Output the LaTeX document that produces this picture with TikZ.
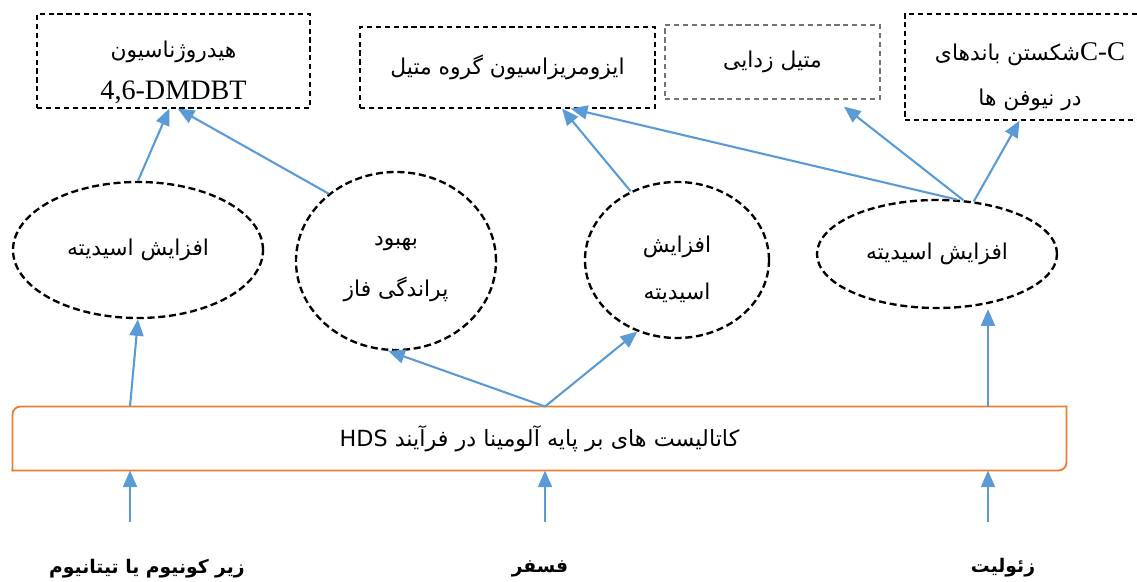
\documentclass[tikz,border=0pt]{standalone}
\usepackage{fontspec}
\setmainfont{Liberation Serif}
\newfontfamily\fafont[Script=Arabic]{DejaVu Sans}
\TeXXeTstate=1
\usetikzlibrary{arrows.meta, shapes.geometric}
\definecolor{flowblue}{HTML}{5B9BD5}
\definecolor{catorange}{HTML}{ED7D31}
\newcommand{\fa}[1]{{\fafont\beginR #1\endR}}
\newcommand{\lift}[1]{\rule{0pt}{#1}}

\begin{document}
\begin{tikzpicture}[x=0.015cm, y=-0.015cm,
    result/.style={draw, dash pattern=on 2.2pt off 1.6pt, line width=0.5pt, align=center, inner sep=0pt, font=\fontsize{9.3}{13}\selectfont},
    effect/.style={ellipse, draw, dash pattern=on 3pt off 1.6pt, line width=1pt, align=center, inner sep=0pt, font=\fontsize{9.3}{13}\selectfont},
    flow/.style={draw=flowblue, line width=0.9pt, -{Triangle[length=2.5mm, width=2.1mm]}},
    edge line/.style={catorange, line width=0.8pt, line cap=rect, rounded corners=0.12cm},
    source/.style={font=\fontsize{8}{10}\selectfont\bfseries}]
  \useasboundingbox (0,0) rectangle (1137,582);

  % Nati
  \node[result, minimum width=4.095cm, minimum height=1.41cm] (hyd) at (173.5,61)
    {\lift{17pt}\fa{هیدروژناسیون}\\[5pt]{\fontsize{12}{14}\selectfont 4,6-DMDBT}};
  \node[result, minimum width=4.425cm, minimum height=1.215cm] (iso) at (507.5,67.5)
    {\fa{ایزومریزاسیون گروه متیل}};
  \node[result, draw=black!55, minimum width=3.225cm, minimum height=1.11cm] (demeth) at (772.5,62)
    {\fa{متیل زدایی}};
  \node[result, minimum width=3.75cm, minimum height=1.59cm] (crack) at (1030,67)
    {\lift{16pt}{\fafont\beginR\beginL{\rmfamily\fontsize{11.5}{13}\selectfont C-C}\endL شکستن باندهای\endR}\\[6pt]\fa{در نیوفن ها}};

  % Asar
  \node[effect, minimum width=3.75cm, minimum height=2.04cm] (acid1) at (138,250)
    {\fa{افزایش اسیدیته}};
  \node[effect, minimum width=3.0cm, minimum height=2.67cm] (disp) at (396,261)
    {\lift{11pt}\fa{بهبود}\\[9pt]\fa{پراندگی فاز}};
  \node[effect, minimum width=2.76cm, minimum height=2.34cm] (acid2) at (677,260)
    {\lift{15pt}\fa{افزایش}\\[7pt]\fa{اسیدیته}};
  \node[effect, minimum width=3.6cm, minimum height=1.62cm] (acid3) at (937,254)
    {\fa{افزایش اسیدیته}};

  % Katalist
  \node[minimum width=15.795cm, minimum height=0.945cm, inner sep=0pt, font=\fontsize{9.5}{11}\selectfont] (main) at (539.5,438.5)
    {{\fafont\beginR کاتالیست های بر پایه آلومینا در فرآیند \beginL HDS\endL\endR}};
  \draw[edge line] (main.north east) -- (main.north west) -- (main.south west);
  \draw[edge line] (main.south west) -- (main.south east) -- (main.north east);

  % Afzoodani ha
  \node[source] (zr) at (147,569) {\fa{زیر کونیوم یا تیتانیوم}};
  \node[source] (ph) at (540,569) {\fa{فسفر}};
  \node[source] (zeo) at (1003,568) {\fa{زئولیت}};
  \coordinate (in1) at (130,522);
  \coordinate (in2) at (545,522);
  \coordinate (in3) at (988,522);

  \draw[flow] (in1) -- (main.south -| in1);
  \draw[flow] (in2) -- (main.south -| in2);
  \draw[flow] (in3) -- (main.south -| in3);

  \draw[flow] (main.north -| in1) -- (acid1.south);
  \draw[flow] (main.north -| in2) -- (disp.265);
  \draw[flow] (main.north -| in2) -- (acid2.241);
  \draw[flow] (main.north -| in3) -- (acid3.south -| in3);

  \draw[flow] (acid1.north) -- (hyd.265);
  \draw[flow] (disp.135) -- (hyd.275);
  \draw[flow] (acid2.124) -- (iso.-37);
  \draw[flow] (acid3.70) -- (iso.-33);
  \draw[flow, shorten >=0.17cm] (acid3.64) -- (demeth.-31);
  \draw[flow] (acid3.55) -- (crack.259);
\end{tikzpicture}
\end{document}
